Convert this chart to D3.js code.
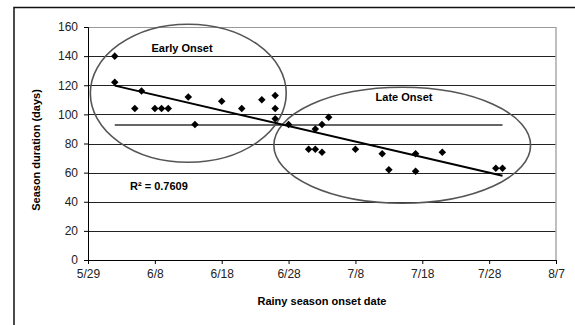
<!DOCTYPE html>
<html><head><meta charset="utf-8">
<script src="https://cdn.jsdelivr.net/npm/d3@7"></script>
<style>body{margin:0;background:#fff}svg{display:block}</style>
</head><body>
<svg id="c" width="575" height="325"></svg>
<script>
// ---- data ----
const onsetDates = ["6/2","6/2","6/5","6/6","6/8","6/9","6/10","6/13","6/14","6/18","6/21","6/24","6/26","6/26","6/26","6/28","7/2","7/3","7/4","7/1","7/2","7/3","7/8","7/12","7/13","7/17","7/17","7/21","7/29","7/30"];
const durations = [140,122,104,116,104,104,104,112,93,109,104,110,113,104,97,93,90,93,98,76,76,74,76,73,62,73,61,74,63,63];
const xTickLabels = ["5/29","6/8","6/18","6/28","7/8","7/18","7/28","8/7"];
const yTicks = [0,20,40,60,80,100,120,140,160];
const rSquaredText = "R\u00b2 = 0.7609";
// annotation ellipses in data units: [center date, center value, half-width days, half-height value]
const earlyGroup = {label:"Early Onset", center:"6/13", value:114.5, halfDays:14.65, halfValue:47.4};
const lateGroup  = {label:"Late Onset",  center:"7/15", value:78.8,  halfDays:19.2,  halfValue:39.8};

// ---- setup ----
const parse = s => { const [m,d] = s.split("/").map(Number); return new Date(2001, m-1, d); };
const DAY = 864e5;
const svg = d3.select("#c");
const font = "'Liberation Sans', Arial, sans-serif";

const x = d3.scaleTime().domain([parse(xTickLabels[0]), parse(xTickLabels[xTickLabels.length-1])]).range([88, 556]);
const y = d3.scaleLinear().domain([0,160]).range([260, 27]);

// outer frame
svg.append("rect").attr("x",14).attr("y",7.5).attr("width",600).attr("height",400)
  .attr("fill","none").attr("stroke","#111").attr("stroke-width",1.5);

// gridlines
svg.append("g").selectAll("line").data(yTicks.filter(v=>v>0)).join("line")
  .attr("x1",88).attr("x2",556).attr("y1",d=>Math.round(y(d))+0.5).attr("y2",d=>Math.round(y(d))+0.5)
  .attr("stroke",d=>d===160?"#999":"#222").attr("stroke-width",1);
// right border
svg.append("line").attr("x1",556).attr("x2",556).attr("y1",y(160)).attr("y2",y(0))
  .attr("stroke","#aaa").attr("stroke-width",1.5);

// axes
const yAxis = d3.axisLeft(y).tickValues(yTicks).tickSize(4).tickPadding(6);
const gy = svg.append("g").attr("transform","translate(88,0)").call(yAxis);
gy.select(".domain").attr("stroke","#000");
gy.selectAll("text").attr("font-family",font).attr("font-size",12).attr("fill","#222");

const xAxis = d3.axisBottom(x).tickValues(xTickLabels.map(parse)).tickFormat(d3.timeFormat("%-m/%-d")).tickSize(4).tickPadding(5);
const gx = svg.append("g").attr("transform",`translate(0,${y(0)})`).call(xAxis);
gx.select(".domain").attr("stroke","#000");
gx.selectAll("text").attr("font-family",font).attr("font-size",12).attr("fill","#222");

// data
const pts = onsetDates.map((s,i)=>({t:parse(s), v:durations[i]}));
const tmin = d3.min(pts,d=>d.t), tmax = d3.max(pts,d=>d.t);

// mean line
const meanV = d3.mean(pts,d=>d.v);
svg.append("line").attr("x1",x(tmin)).attr("x2",x(tmax)).attr("y1",y(meanV)).attr("y2",y(meanV))
  .attr("stroke","#666").attr("stroke-width",2);

// ellipses
function ellipse(g){
  const cx = x(parse(g.center)), cy = y(g.value);
  const rx = x(new Date(parse(g.center).getTime()+g.halfDays*DAY)) - cx;
  const ry = y(0) - y(g.halfValue);
  svg.append("ellipse").attr("cx",cx).attr("cy",cy).attr("rx",rx).attr("ry",ry)
    .attr("fill","none").attr("stroke","#555").attr("stroke-width",1.6);
}
ellipse(earlyGroup); ellipse(lateGroup);

// regression line
const xs = pts.map(d=>(d.t-tmin)/DAY), ys = pts.map(d=>d.v);
const mx = d3.mean(xs), my = d3.mean(ys);
const slope = d3.sum(xs.map((xv,i)=>(xv-mx)*(ys[i]-my))) / d3.sum(xs.map(xv=>(xv-mx)**2));
const icpt = my - slope*mx;
const span = (tmax-tmin)/DAY;
svg.append("line").attr("x1",x(tmin)).attr("y1",y(icpt)).attr("x2",x(tmax)).attr("y2",y(icpt+slope*span))
  .attr("stroke","#000").attr("stroke-width",2);

// markers
svg.append("g").selectAll("path").data(pts).join("path")
  .attr("d",d3.symbol(d3.symbolDiamond2, 36))
  .attr("transform",d=>`translate(${x(d.t)},${y(d.v)})`)
  .attr("fill","#000");

// labels
svg.append("text").attr("x",182).attr("y",52).attr("text-anchor","middle")
  .attr("font-family",font).attr("font-size",11).attr("font-weight","bold").text(earlyGroup.label);
svg.append("text").attr("x",404).attr("y",101).attr("text-anchor","middle")
  .attr("font-family",font).attr("font-size",11).attr("font-weight","bold").text(lateGroup.label);
svg.append("text").attr("x",130).attr("y",190)
  .attr("font-family",font).attr("font-size",11).attr("font-weight","bold").text(rSquaredText);

svg.append("text").attr("transform","translate(40,150) rotate(-90)").attr("text-anchor","middle")
  .attr("font-family",font).attr("font-size",11).attr("font-weight","bold").text("Season duration (days)");
svg.append("text").attr("x",322).attr("y",305).attr("text-anchor","middle")
  .attr("font-family",font).attr("font-size",11).attr("font-weight","bold").text("Rainy season onset date");
</script>
</body></html>
